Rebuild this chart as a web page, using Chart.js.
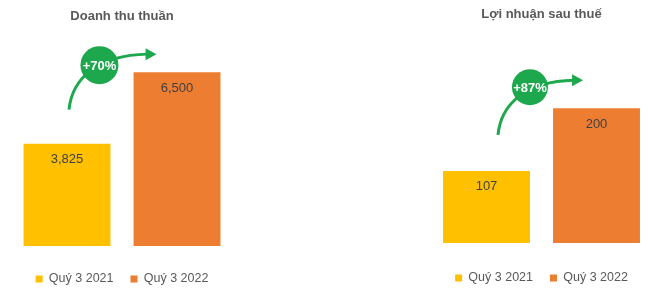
<!DOCTYPE html>
<html>
<head>
<meta charset="utf-8">
<script src="https://cdn.jsdelivr.net/npm/chart.js@4"></script>
<style>
  body { margin: 0; background: #fff; overflow: hidden; }
  #wrap { position: relative; width: 650px; height: 292px; overflow: hidden; }
  canvas { position: absolute; top: 0; }
</style>
</head>
<body>
<div id="wrap">
  <canvas id="revChart" width="244" height="296" style="left:0"></canvas>
  <canvas id="profitChart" width="233" height="296" style="left:425px"></canvas>
</div>
<script>
// ---- data ----
const seriesNames = ['Quý 3 2021', 'Quý 3 2022'];
const revenueValues = [3825, 6500];   // Doanh thu thuần
const profitValues = [107, 200];      // Lợi nhuận sau thuế
const growthLabels = ['+70%', '+87%'];

const FONT = "'Liberation Sans', Arial, sans-serif";
const barColors = ['#FFC000', '#ED7D31'];
const GREEN = '#1EA84E';

// value labels inside the top of each bar
const valueLabels = {
    id: 'valueLabels',
    afterDatasetsDraw(chart) {
        const ctx = chart.ctx;
        ctx.save();
        ctx.font = '13px ' + FONT;
        ctx.fillStyle = '#404040';
        ctx.textAlign = 'center';
        ctx.textBaseline = 'middle';
        chart.data.datasets.forEach((ds, i) => {
            chart.getDatasetMeta(i).data.forEach((bar, j) => {
                ctx.fillText(ds.data[j].toLocaleString('en-US'), bar.x, bar.y + 16);
            });
        });
        ctx.restore();
    }
};

// green growth badge + curved arrow, placed relative to the two bars
const growthBadge = {
    id: 'growthBadge',
    afterDraw(chart, args, opts) {
        const b1 = chart.getDatasetMeta(0).data[0];
        const b2 = chart.getDatasetMeta(1).data[0];
        const b1Right = b1.x + b1.width / 2;
        const b2Left = b2.x - b2.width / 2;
        const sx = b1.x + opts.start[0], sy = b1.y + opts.start[1];
        const tx = b2Left + opts.tip[0], ty = b2.y + opts.tip[1];
        const cx = b1Right + opts.circle[0], cy = b2.y + opts.circle[1];
        const ex = tx - 9;
        const ctx = chart.ctx;
        ctx.save();
        ctx.strokeStyle = GREEN;
        ctx.fillStyle = GREEN;
        ctx.lineWidth = 3;
        ctx.beginPath();
        ctx.moveTo(sx, sy);
        ctx.bezierCurveTo(sx + 3, sy - 0.55 * (sy - ty), sx + 0.35 * (ex - sx), ty + 1, ex, ty);
        ctx.stroke();
        // arrow head
        ctx.beginPath();
        ctx.moveTo(tx, ty);
        ctx.lineTo(tx - 11, ty - 6);
        ctx.lineTo(tx - 11, ty + 6);
        ctx.closePath();
        ctx.fill();
        // circle
        ctx.beginPath();
        ctx.arc(cx, cy, opts.r, 0, Math.PI * 2);
        ctx.fill();
        ctx.fillStyle = '#fff';
        ctx.font = 'bold 13px ' + FONT;
        ctx.textAlign = 'center';
        ctx.textBaseline = 'middle';
        ctx.fillText(opts.text, cx, cy + 1);
        ctx.restore();
    }
};

function makeChart(id, title, values, cfg) {
    return new Chart(document.getElementById(id), {
        type: 'bar',
        data: {
            labels: [''],
            datasets: seriesNames.map((name, i) => ({
                label: name,
                data: [values[i]],
                backgroundColor: barColors[i],
                borderColor: barColors[i],
                borderWidth: 0,
                categoryPercentage: 1,
                barPercentage: 0.79
            }))
        },
        options: {
            responsive: false,
            animation: false,
            devicePixelRatio: 1,
            events: [],
            layout: { padding: { left: cfg.padX, right: cfg.padX, top: 0, bottom: cfg.padBottom } },
            scales: {
                x: {
                    display: true,
                    grid: { display: false },
                    border: { display: false },
                    ticks: { display: false },
                    afterFit: s => { s.height = cfg.gap; }
                },
                y: { display: false, min: 0, max: cfg.yMax }
            },
            plugins: {
                title: {
                    display: true,
                    text: title,
                    color: '#595959',
                    font: { family: FONT, size: 13, weight: 'bold' },
                    padding: { top: cfg.titleTop, bottom: cfg.titleBottom }
                },
                legend: {
                    position: 'bottom',
                    labels: {
                        boxWidth: 7,
                        boxHeight: 7,
                        padding: 17,
                        color: '#595959',
                        font: { family: FONT, size: 12.5 }
                    }
                },
                tooltip: { enabled: false },
                growthBadge: cfg.badge
            }
        },
        plugins: [valueLabels, growthBadge]
    });
}

makeChart('revChart', 'Doanh thu thuần', revenueValues, {
    padX: 12, padBottom: 0.75, gap: 9.75, yMax: 8000, titleTop: 8.2, titleBottom: 8.2,
    badge: { text: growthLabels[0], r: 19, circle: [-11, -7], start: [2, -34], tip: [23, -18] }
});

makeChart('profitChart', 'Lợi nhuận sau thuế', profitValues, {
    padX: 6.5, padBottom: 1.75, gap: 11.75, yMax: 315, titleTop: 6.7, titleBottom: 8.4,
    badge: { text: growthLabels[1], r: 18, circle: [0, -21], start: [11.5, -36], tip: [30, -28] }
});
</script>
</body>
</html>
